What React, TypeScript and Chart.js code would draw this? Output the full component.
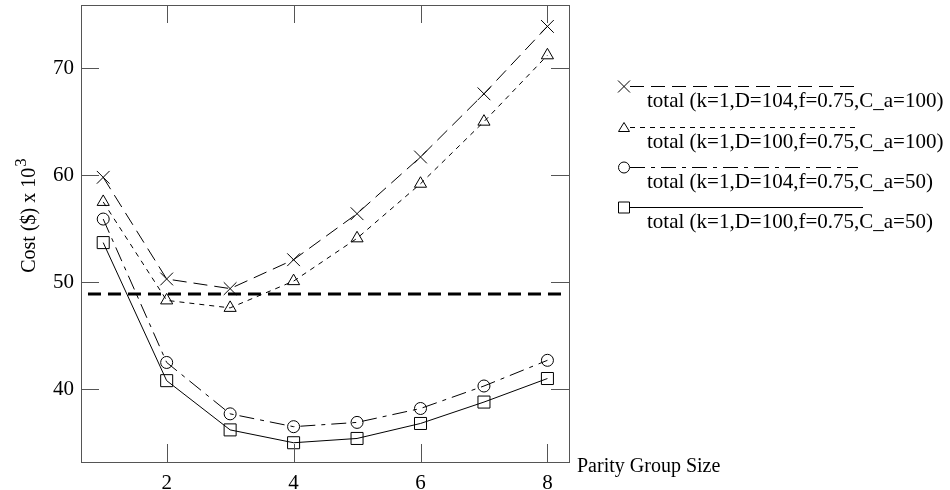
import React, { useEffect, useRef } from "react";
import { Chart, registerables } from "chart.js";

Chart.register(...registerables);

// ---- data ----
const groupSizes = [1, 2, 3, 4, 5, 6, 7, 8];
const costD104Ca100 = [59.8, 50.3, 49.4, 52.1, 56.4, 61.7, 67.6, 73.9];
const costD100Ca100 = [57.5, 48.3, 47.6, 50.1, 54.1, 59.2, 65.0, 71.2];
const costD104Ca50 = [55.9, 42.5, 37.7, 36.5, 36.9, 38.2, 40.3, 42.7];
const costD100Ca50 = [53.7, 40.8, 36.2, 35.0, 35.4, 36.8, 38.8, 41.0];
const thresholdX = [0.76, 8.23];
const thresholdCost = 48.9;
const xTickValues = [2, 4, 6, 8];
const yTickValues = [40, 50, 60, 70];
const seriesLabels = [
  "total (k=1,D=104,f=0.75,C_a=100)",
  "total (k=1,D=100,f=0.75,C_a=100)",
  "total (k=1,D=104,f=0.75,C_a=50)",
  "total (k=1,D=100,f=0.75,C_a=50)",
];
const xTitle = "Parity Group Size";
const yTitle = "Cost ($) x 10";
const yTitleSup = "3";

const FONT = "'Liberation Serif', 'Times New Roman', serif";
const FRAME = "#555";

const pts = (ys: number[]) => groupSizes.map((g, i) => ({ x: g, y: ys[i] }));

const seriesStyles = [
  { style: "crossRot", radius: 9, dash: [14, 7] },
  { style: "triangle", radius: 7, dash: [5, 5] },
  { style: "circle", radius: 6, dash: [15, 6, 4, 6] },
  { style: "rect", radius: 8.5, dash: [] as number[] },
];

function drawLegendMarker(ctx: CanvasRenderingContext2D, style: string, x: number, y: number) {
  ctx.beginPath();
  if (style === "crossRot") {
    ctx.moveTo(x - 6, y - 6);
    ctx.lineTo(x + 6, y + 6);
    ctx.moveTo(x + 6, y - 6);
    ctx.lineTo(x - 6, y + 6);
  } else if (style === "triangle") {
    ctx.moveTo(x, y - 5);
    ctx.lineTo(x + 5.5, y + 4);
    ctx.lineTo(x - 5.5, y + 4);
    ctx.closePath();
  } else if (style === "circle") {
    ctx.arc(x, y, 5.5, 0, Math.PI * 2);
  } else {
    ctx.rect(x - 5.5, y - 5.5, 11, 11);
  }
  ctx.stroke();
}

const decorPlugin = {
  id: "decor",
  afterDraw(chart: any) {
    const { ctx, chartArea: a, scales } = chart;
    const xs = scales.x;
    const ys = scales.y;
    ctx.save();
    // frame
    ctx.strokeStyle = FRAME;
    ctx.lineWidth = 1;
    ctx.setLineDash([]);
    ctx.strokeRect(Math.round(a.left) + 0.5, Math.round(a.top) + 0.5, Math.round(a.right - a.left), Math.round(a.bottom - a.top));
    // inward ticks
    const tl = 18;
    ctx.beginPath();
    for (const v of xTickValues) {
      const px = Math.round(xs.getPixelForValue(v)) + 0.5;
      ctx.moveTo(px, a.bottom);
      ctx.lineTo(px, a.bottom - tl);
      ctx.moveTo(px, a.top);
      ctx.lineTo(px, a.top + tl);
    }
    for (const v of yTickValues) {
      const py = Math.round(ys.getPixelForValue(v)) + 0.5;
      ctx.moveTo(a.left, py);
      ctx.lineTo(a.left + tl, py);
      ctx.moveTo(a.right, py);
      ctx.lineTo(a.right - tl, py);
    }
    ctx.stroke();

    // axis titles
    ctx.fillStyle = "#000";
    ctx.font = `20px ${FONT}`;
    ctx.textAlign = "left";
    ctx.textBaseline = "alphabetic";
    ctx.fillText(xTitle, a.right + 8, 472);

    ctx.save();
    ctx.translate(35, 216);
    ctx.rotate(-Math.PI / 2);
    ctx.font = `20px ${FONT}`;
    const w1 = ctx.measureText(yTitle).width;
    ctx.font = `17px ${FONT}`;
    const w2 = ctx.measureText(yTitleSup).width;
    const start = -(w1 + w2) / 2;
    ctx.font = `20px ${FONT}`;
    ctx.fillText(yTitle, start, 0);
    ctx.font = `17px ${FONT}`;
    ctx.fillText(yTitleSup, start + w1 + 1, -9);
    ctx.restore();

    // legend
    const rowY = [86, 127, 167, 207];
    const lineEnd = [858, 858, 858, 863];
    ctx.strokeStyle = "#000";
    ctx.lineWidth = 1;
    seriesLabels.forEach((label, i) => {
      const y = rowY[i] + 0.5;
      ctx.setLineDash(seriesStyles[i].dash);
      ctx.beginPath();
      ctx.moveTo(630, y);
      ctx.lineTo(lineEnd[i], y);
      ctx.stroke();
      ctx.setLineDash([]);
      drawLegendMarker(ctx, seriesStyles[i].style, 624, y);
      ctx.font = `21px ${FONT}`;
      ctx.fillStyle = "#000";
      ctx.textAlign = "left";
      ctx.textBaseline = "alphabetic";
      ctx.fillText(label, 647, rowY[i] + 21);
    });
    ctx.restore();
  },
};

export default function App() {
  const ref = useRef<HTMLCanvasElement | null>(null);

  useEffect(() => {
    if (!ref.current) return;
    const seriesData = [costD104Ca100, costD100Ca100, costD104Ca50, costD100Ca50];
    const datasets: any[] = seriesData.map((d, i) => ({
      label: seriesLabels[i],
      data: pts(d),
      borderColor: "#000",
      borderWidth: 1,
      borderDash: seriesStyles[i].dash,
      pointStyle: seriesStyles[i].style,
      pointRadius: seriesStyles[i].radius,
      pointBorderColor: "#000",
      pointBorderWidth: 1,
      pointBackgroundColor: "rgba(0,0,0,0)",
      fill: false,
      tension: 0,
    }));
    datasets.push({
      label: "threshold",
      data: thresholdX.map((x) => ({ x, y: thresholdCost })),
      borderColor: "#000",
      borderWidth: 3,
      borderDash: [13, 7],
      pointRadius: 0,
      fill: false,
    });

    const chart = new Chart(ref.current, {
      type: "line",
      data: { datasets },
      plugins: [decorPlugin],
      options: {
        animation: false,
        responsive: true,
        maintainAspectRatio: false,
        layout: { autoPadding: false, padding: { left: 0, top: 5, right: 381, bottom: 0 } },
        plugins: { legend: { display: false }, tooltip: { enabled: false } },
        scales: {
          x: {
            type: "linear",
            min: 0.65,
            max: 8.34,
            grid: { display: false, drawTicks: false },
            border: { display: false },
            afterBuildTicks: (s: any) => {
              s.ticks = xTickValues.map((v) => ({ value: v }));
            },
            afterFit: (s: any) => {
              s.height = 28;
              s.paddingLeft = 0;
              s.paddingRight = 0;
            },
            ticks: {
              color: "#000",
              font: { family: FONT, size: 21 },
              padding: 9,
              maxRotation: 0,
              autoSkip: false,
            },
          },
          y: {
            type: "linear",
            min: 33.2,
            max: 75.9,
            grid: { display: false, drawTicks: false },
            border: { display: false },
            afterBuildTicks: (s: any) => {
              s.ticks = yTickValues.map((v) => ({ value: v }));
            },
            afterFit: (s: any) => {
              s.width = 81;
              s.paddingTop = 0;
              s.paddingBottom = 0;
            },
            ticks: {
              color: "#000",
              font: { family: FONT, size: 21 },
              padding: 7,
              autoSkip: false,
            },
          },
        },
      } as any,
    });
    return () => chart.destroy();
  }, []);

  return (
    <div style={{ position: "fixed", left: 0, top: 0, width: 950, height: 490, background: "#fff" }}>
      <canvas ref={ref} />
    </div>
  );
}
